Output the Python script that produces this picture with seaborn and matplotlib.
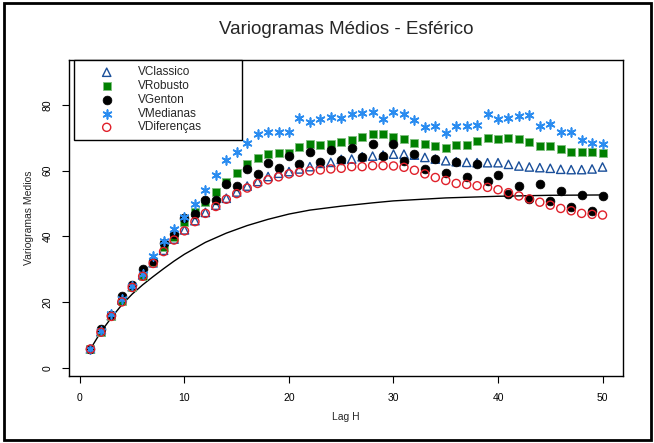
import numpy as np
import pandas as pd
import matplotlib
matplotlib.use("Agg")
import matplotlib.pyplot as plt
import seaborn as sns
from matplotlib.patches import Rectangle

lags = list(range(1, 51))
v_classico = [5.8, 11.0, 15.9, 20.7, 24.7, 28.3, 32.0, 35.8, 39.2, 42.0,
              44.8, 47.3, 49.5, 51.6, 53.5, 55.3, 56.7, 58.2, 59.2, 59.7,
              60.5, 61.2, 62.2, 62.5, 63.4, 63.5, 64.2, 64.4, 64.7, 65.0,
              65.0, 64.7, 64.0, 63.5, 63.0, 62.7, 62.5, 62.4, 62.4, 62.4,
              61.9, 61.4, 61.1, 60.9, 60.7, 60.4, 60.3, 60.3, 60.5, 61.1]
v_robusto = [5.8, 11.0, 15.8, 20.5, 24.6, 28.0, 32.3, 36.9, 39.9, 44.3,
             47.3, 50.5, 53.6, 56.5, 59.3, 62.0, 63.7, 65.1, 65.4, 65.4,
             67.3, 68.2, 67.8, 68.2, 68.7, 69.3, 70.3, 71.0, 71.0, 70.3,
             69.5, 68.5, 68.1, 67.6, 66.8, 67.8, 67.8, 69.0, 69.8, 69.6,
             69.9, 69.7, 68.6, 67.5, 67.5, 66.6, 65.7, 65.7, 65.7, 65.4]
v_genton = [5.8, 11.8, 16.2, 22.0, 25.3, 30.1, 32.5, 38.1, 40.6, 45.5,
            46.7, 51.0, 51.2, 56.0, 55.4, 60.5, 58.9, 62.2, 60.9, 64.4,
            62.0, 65.7, 62.7, 66.3, 63.2, 67.0, 64.0, 68.0, 64.4, 68.0,
            62.9, 65.0, 60.5, 63.6, 59.4, 62.7, 58.0, 62.0, 56.8, 58.7,
            53.0, 55.2, 51.3, 55.8, 50.9, 53.7, 49.0, 52.5, 47.6, 52.3]
v_medianas = [5.8, 11.2, 16.3, 21.0, 24.8, 28.5, 34.0, 38.7, 42.2, 45.9,
              50.0, 54.1, 58.7, 63.3, 65.8, 68.4, 71.0, 71.6, 71.8, 71.6,
              76.1, 74.9, 75.6, 76.3, 76.0, 77.1, 77.6, 77.9, 75.7, 77.7,
              77.2, 75.4, 73.3, 73.7, 71.3, 73.6, 73.6, 73.9, 77.2, 75.7,
              75.9, 76.7, 76.9, 73.7, 74.2, 71.8, 71.8, 69.2, 68.5, 68.1]
v_diferencas = [5.8, 10.9, 15.7, 20.1, 24.5, 27.9, 31.8, 35.4, 38.9, 41.7,
                44.5, 47.0, 49.1, 51.3, 53.0, 54.7, 56.1, 57.2, 58.1, 59.0,
                59.5, 59.9, 60.2, 60.5, 60.7, 61.2, 61.2, 61.5, 61.5, 61.4,
                61.0, 60.1, 59.0, 57.9, 57.0, 56.1, 55.8, 55.4, 54.9, 54.2,
                53.3, 52.3, 51.4, 50.4, 49.5, 48.5, 47.8, 47.0, 46.7, 46.5]
model_lag = [1, 2, 3, 4, 5, 6, 7, 8, 9, 10, 12, 14, 16, 18, 20, 22, 25, 28,
             30, 35, 40, 45, 50]
model_val = [5.8, 11.0, 15.3, 19.2, 22.5, 25.3, 27.8, 30.2, 32.5, 34.6, 38.2,
             41.0, 43.3, 45.2, 46.8, 48.0, 49.2, 50.2, 50.8, 51.7, 52.2, 52.5,
             52.6]

title = "Variogramas Médios - Esférico"
xlabel = "Lag H"
ylabel = "Variogramas Medios"
xticks = [0, 10, 20, 30, 40, 50]
yticks = [0, 20, 40, 60, 80]

sns.set_theme(style="white")
plt.rcParams['font.family'] = ['Liberation Sans', 'DejaVu Sans']

fig = plt.figure(figsize=(6.54, 4.43), dpi=100)
W, H = 654, 443
L, R, T, B = 69, 623, 60, 376
ax = fig.add_axes([L / W, 1 - B / H, (R - L) / W, (B - T) / H])

df_model = pd.DataFrame({"lag": model_lag, "val": model_val})
sns.lineplot(data=df_model, x="lag", y="val", ax=ax, color="black", lw=1.0,
             zorder=1)

series = [
    ("VClassico", v_classico, dict(marker="^", s=36, facecolors="none",
                                   edgecolors="#1a4f9a", linewidths=1.0)),
    ("VRobusto", v_robusto, dict(marker="s", s=34, color="#008000",
                                 edgecolors="#7fc07f", linewidths=0.6)),
    ("VGenton", v_genton, dict(marker="o", s=40, color="black",
                               edgecolors="black", linewidths=0.5)),
    ("VMedianas", v_medianas, dict(marker=(6, 2, 0), s=40,
                                   color="#2a8cf0", linewidths=1.2)),
    ("VDiferenças", v_diferencas, dict(marker="o", s=34, facecolors="none",
                                       edgecolors="#e0202a", linewidths=1.0)),
]
handles = []
for i, (name, vals, kw) in enumerate(series):
    d = pd.DataFrame({"lag": lags, "val": vals})
    sns.scatterplot(data=d, x="lag", y="val", ax=ax, label=name,
                    zorder=3 + i, legend=False, **kw)
    handles.append(ax.collections[-1])

ax.set_xlim(-1.05, 51.96)
ax.set_ylim(-2.4, 93.6)
ax.set_xticks(xticks)
ax.set_yticks(yticks)
ax.tick_params(axis="both", direction="out", length=5, width=0.8,
               labelsize=7.5, pad=7, colors="black", bottom=True, left=True)
for lab in ax.get_yticklabels():
    lab.set_rotation(90)
    lab.set_va("center")
for sp in ax.spines.values():
    sp.set_color("black")
    sp.set_linewidth(1.0)
ax.set_xlabel(xlabel, fontsize=7.5, labelpad=7)
ax.set_ylabel(ylabel, fontsize=7.5, labelpad=6)

leg = ax.legend(handles, [s[0] for s in series], loc="upper left",
                bbox_to_anchor=(5 / 554, 1 - 3 / 316, 168 / 554, 0.01),
                mode="expand", borderaxespad=0, fontsize=8.5, frameon=True,
                fancybox=False, handlelength=4.44, handletextpad=0.43,
                labelspacing=0.15, borderpad=0.55, scatterpoints=1)
leg.get_frame().set_edgecolor("black")
leg.get_frame().set_linewidth(1.0)
leg.get_frame().set_alpha(1)

fig.text(346 / W, 1 - 29 / H, title, ha="center", va="center", fontsize=13.5)
fig.add_artist(Rectangle((4 / W, 3 / H), 647 / W, 437 / H,
                         transform=fig.transFigure, fill=False,
                         edgecolor="black", lw=2))

fig.savefig("out.png", dpi=100)
